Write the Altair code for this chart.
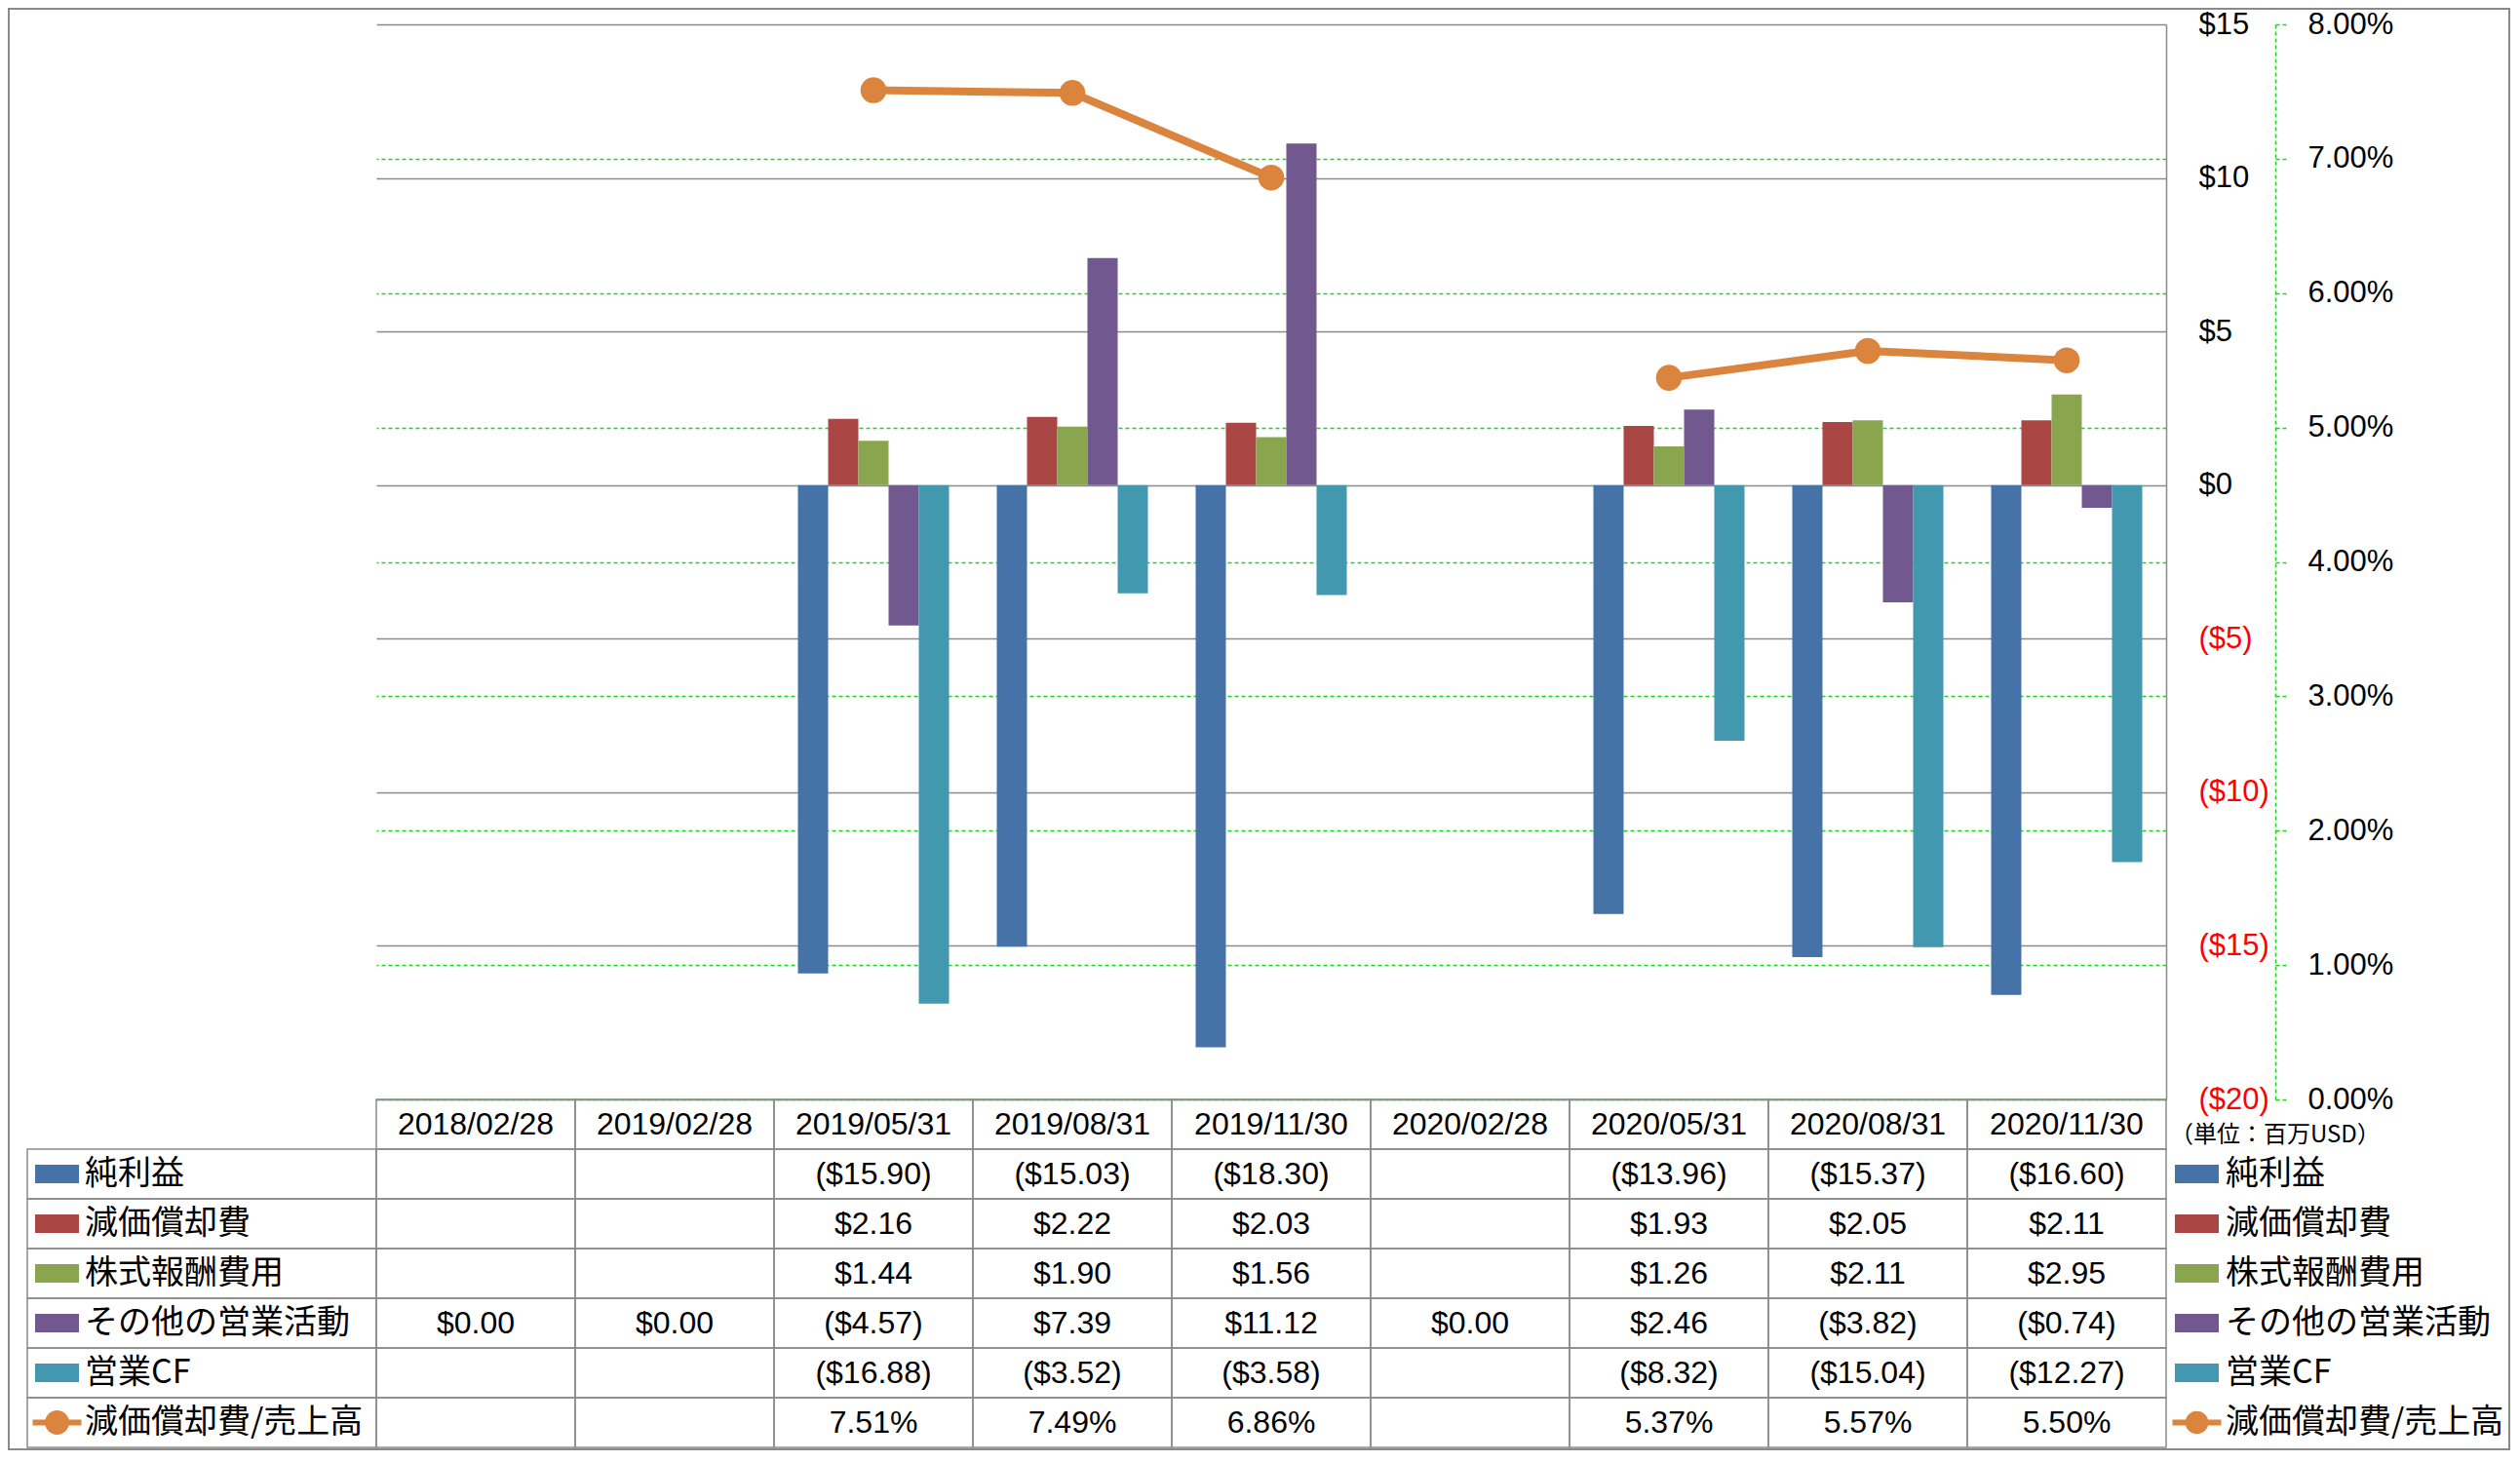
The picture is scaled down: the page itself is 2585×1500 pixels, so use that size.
import altair as alt
import pandas as pd

# ---------------- data ----------------
dates = ["2018/02/28", "2019/02/28", "2019/05/31", "2019/08/31", "2019/11/30",
         "2020/02/28", "2020/05/31", "2020/08/31", "2020/11/30"]
net_income   = [None, None, -15.90, -15.03, -18.30, None, -13.96, -15.37, -16.60]
depreciation = [None, None, 2.16, 2.22, 2.03, None, 1.93, 2.05, 2.11]
stock_comp   = [None, None, 1.44, 1.90, 1.56, None, 1.26, 2.11, 2.95]
other_ops    = [0.00, 0.00, -4.57, 7.39, 11.12, 0.00, 2.46, -3.82, -0.74]
operating_cf = [None, None, -16.88, -3.52, -3.58, None, -8.32, -15.04, -12.27]
dep_ratio    = [None, None, 7.51, 7.49, 6.86, None, 5.37, 5.57, 5.50]   # percent

bar_series = ["純利益", "減価償却費", "株式報酬費用", "その他の営業活動", "営業CF"]
line_series = "減価償却費/売上高"
bar_colors = ["#4572A7", "#AA4643", "#89A54E", "#71588F", "#4198AF"]
line_color = "#DB843D"
usd_ticks = [-20, -15, -10, -5, 0, 5, 10, 15]
pct_ticks = [0, 1, 2, 3, 4, 5, 6, 7, 8]
unit_label = "（単位：百万USD）"
HDR = "header"

# ---------------- styles ----------------
LATIN = "Liberation Sans, Arial, DejaVu Sans"
CJK = "Noto Sans CJK JP, Noto Sans CJK SC, sans-serif"
GRAY = "#8A8A8A"
GREEN = "#19D819"
W, H = 1836, 1103
TOP_PAD = 17
TOTAL_W, TOTAL_H = 2567, 1480
TABLE_TOP = H
TABLE_BOTTOM = TOTAL_H - TOP_PAD - 3

# ---------------- frames ----------------
bar_values = [net_income, depreciation, stock_comp, other_ops, operating_cf]
bars_df = pd.DataFrame([{"date": d, "series": s, "value": v}
                        for s, vals in zip(bar_series, bar_values)
                        for d, v in zip(dates, vals)])
ratio_df = pd.DataFrame({"date": dates, "ratio": dep_ratio})

all_rows = bar_series + [line_series]
row_keys = [HDR] + all_rows

table_df = pd.concat([
    pd.DataFrame({"row": bars_df["series"], "date": bars_df["date"],
                  "value": bars_df["value"], "kind": "usd"}),
    pd.DataFrame({"row": line_series, "date": dates, "value": dep_ratio, "kind": "pct"}),
]).dropna(subset=["value"])
cells_df = pd.DataFrame([{"row": r, "date": d} for r in row_keys for d in dates])
header_df = pd.DataFrame({"row": HDR, "date": dates})
labels_df = pd.DataFrame({"row": all_rows})
swatch_df = pd.DataFrame({"row": bar_series, "series": bar_series})
ratio_key_df = pd.DataFrame({"row": [line_series]})
unit_df = pd.DataFrame({"row": [HDR], "t": [unit_label]})
frame_df = pd.DataFrame({"k": [0]})

# ---------------- shared encodings ----------------
x_enc = alt.X("date:N", scale=alt.Scale(domain=dates, paddingInner=0, paddingOuter=0), axis=None)
color_enc = alt.Color("series:N", scale=alt.Scale(domain=bar_series, range=bar_colors), legend=None)
row_y = alt.Y("row:N", scale=alt.Scale(domain=row_keys, range=[TABLE_TOP, TABLE_BOTTOM],
                                       paddingInner=0, paddingOuter=0), axis=None)

# ---------------- bars (primary axis) ----------------
usd_axis = alt.Axis(
    orient="right", values=usd_ticks, title=None,
    grid=True, gridColor=GRAY, gridWidth=1.5,
    domain=True, domainColor=GRAY, domainWidth=1.5,
    ticks=False, tickSize=0, labelPadding=33,
    labelFont=LATIN, labelFontSize=31, labelAlign="left", labelBaseline="middle",
    labelColor={"condition": {"test": "datum.value < 0", "value": "#FF0000"}, "value": "#000000"},
    labelExpr="datum.value < 0 ? '($' + (-datum.value) + ')' : '$' + datum.value",
)
bars = alt.Chart(bars_df).mark_bar().encode(
    x=x_enc,
    xOffset=alt.XOffset("series:N", scale=alt.Scale(domain=bar_series, paddingInner=0, paddingOuter=0.79)),
    y=alt.Y("value:Q", scale=alt.Scale(domain=[-20, 15], nice=False, zero=False), axis=usd_axis),
    color=color_enc,
)

# ---------------- ratio line (secondary axis) ----------------
pct_axis = alt.Axis(
    orient="right", offset=112, values=pct_ticks, title=None,
    grid=True, gridWidth=1.5, gridDash=[4, 3],
    gridColor={"condition": {"test": "datum.value >= 8", "value": "transparent"}, "value": GREEN},
    domain=True, domainColor=GREEN, domainWidth=1.5, domainDash=[4, 3],
    ticks=True, tickColor=GREEN, tickSize=12, tickWidth=1.5, tickDash=[4, 3],
    labelPadding=21, labelFont=LATIN, labelFontSize=31, labelColor="#000000",
    labelAlign="left", labelBaseline="middle",
    labelExpr="format(datum.value, '.2f') + '%'",
)
ratio_y = alt.Y("ratio:Q", scale=alt.Scale(domain=[0, 8], nice=False), axis=pct_axis)
line = alt.Chart(ratio_df).mark_line(
    color=line_color, strokeWidth=8, invalid="break-paths-show-domains"
).encode(x=x_enc, y=ratio_y)
points = alt.Chart(ratio_df).mark_circle(size=707, color=line_color, opacity=1).encode(x=x_enc, y=ratio_y)

# ---------------- data table ----------------
cell_style = dict(fillOpacity=0, stroke=GRAY, strokeWidth=1.5)
cells = alt.Chart(cells_df).mark_rect(**cell_style).encode(x=x_enc, y=row_y)
label_cells = alt.Chart(labels_df).mark_rect(**cell_style).encode(
    x=alt.value(-358), x2=alt.value(0), y=row_y)
header_text = alt.Chart(header_df).mark_text(font=LATIN, fontSize=32, color="#000").encode(
    x=x_enc, y=row_y, text="date:N")
value_text = alt.Chart(table_df).transform_calculate(
    label="datum.kind == 'pct' ? format(datum.value, '.2f') + '%' : "
          "(datum.value < 0 ? '($' + format(-datum.value, '.2f') + ')' : '$' + format(datum.value, '.2f'))"
).mark_text(font=LATIN, fontSize=32, color="#000").encode(x=x_enc, y=row_y, text="label:N")

SWATCH = "M-1,-0.42L1,-0.42L1,0.42L-1,0.42Z"
LINEKEY = "M-1,-0.12L1,-0.12L1,0.12L-1,0.12Z"


def key_column(swatch_x, text_x, circle_size):
    sw = alt.Chart(swatch_df).mark_point(shape=SWATCH, filled=True, size=2025, opacity=1,
                                         strokeWidth=0).encode(x=alt.value(swatch_x), y=row_y, color=color_enc)
    ln = alt.Chart(ratio_key_df).mark_point(shape=LINEKEY, filled=True, size=2500, opacity=1,
                                            strokeWidth=0, color=line_color).encode(
        x=alt.value(swatch_x), y=row_y)
    dot = alt.Chart(ratio_key_df).mark_circle(size=circle_size, opacity=1, color=line_color).encode(
        x=alt.value(swatch_x), y=row_y)
    tx = alt.Chart(labels_df).mark_text(align="left", baseline="middle", font=CJK, fontSize=34,
                                        color="#000").encode(x=alt.value(text_x), y=row_y, text="row:N")
    return [sw, ln, dot, tx]


left_keys = key_column(-327.5, -299, 615)
right_keys = key_column(1867.5, 1897, 560)
unit_text = alt.Chart(unit_df).mark_text(align="left", baseline="middle", font=CJK, fontSize=24,
                                         dy=11, color="#000").encode(x=alt.value(1840), y=row_y, text="t:N")
frame = alt.Chart(frame_df).mark_rect(fillOpacity=0, stroke=GRAY, strokeWidth=2).encode(
    x=alt.value(-377), x2=alt.value(TOTAL_W - 378 - 1),
    y=alt.value(-TOP_PAD + 1), y2=alt.value(TOTAL_H - TOP_PAD - 1))

table = alt.layer(cells, label_cells, header_text, value_text, *left_keys, *right_keys, unit_text, frame)

chart = alt.layer(bars, alt.layer(line, points), table).resolve_scale(
    y="independent"
).properties(
    width=W, height=H,
    padding={"left": 378, "top": TOP_PAD, "right": TOTAL_W - 378 - W, "bottom": TOTAL_H - TOP_PAD - H},
    autosize=alt.AutoSizeParams(type="none"),
    background="white",
).configure_view(stroke=None)

chart.save("out.html", embed_options={"renderer": "svg", "actions": False})
